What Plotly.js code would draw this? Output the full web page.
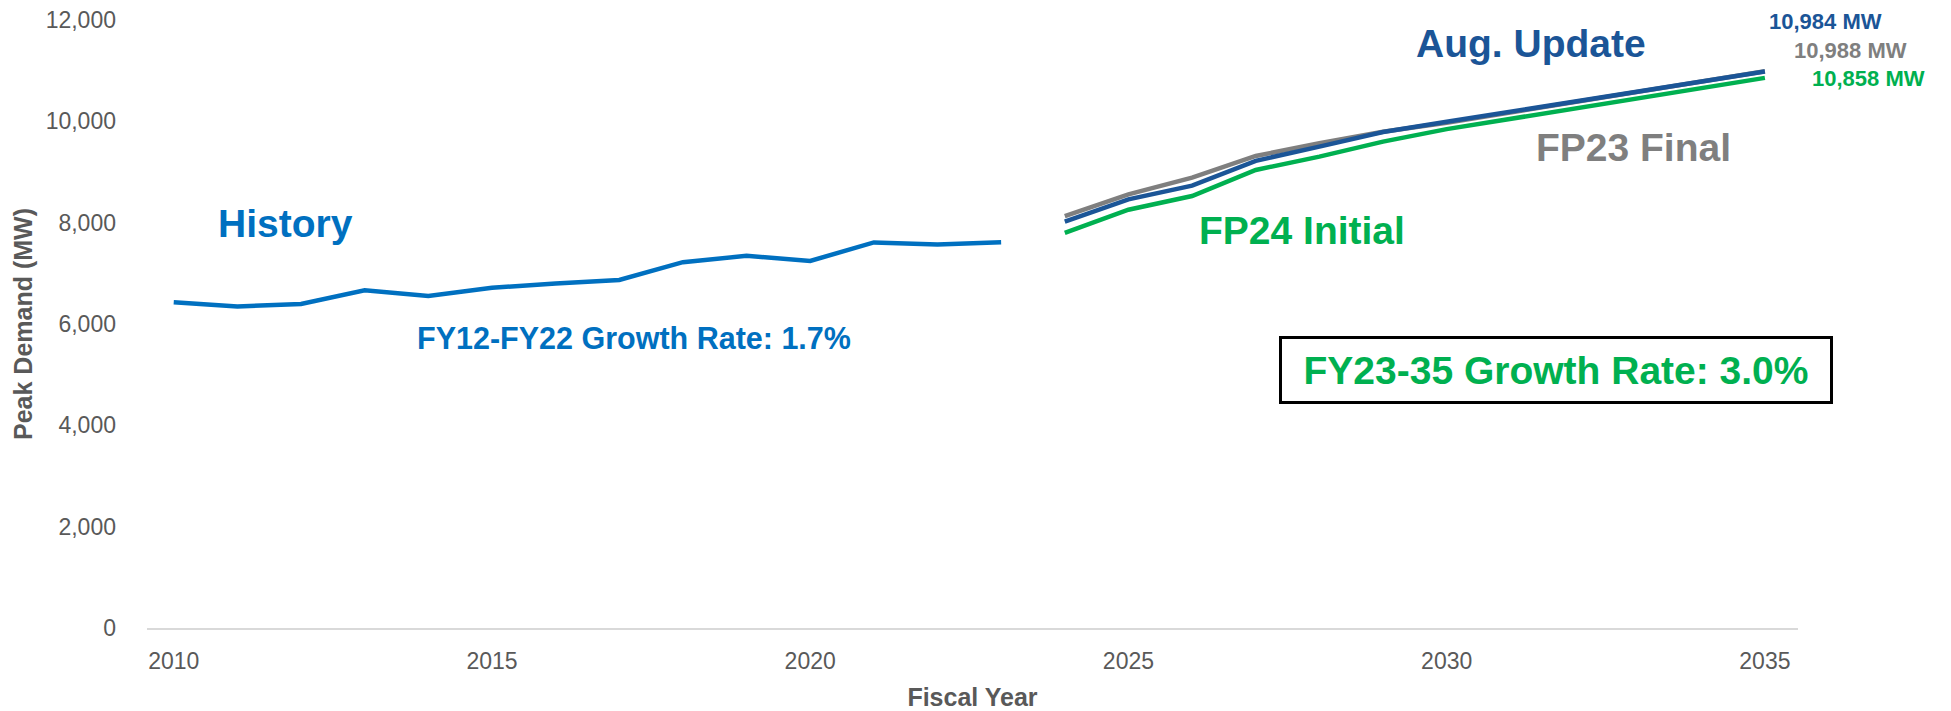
<!DOCTYPE html>
<html>
<head>
<meta charset="utf-8">
<script src="https://cdn.plot.ly/plotly-3.0.1.min.js"></script>
<style>
html,body{margin:0;padding:0;background:#fff;}
#chart{width:1951px;height:711px;}
</style>
</head>
<body>
<div id="chart"></div>
<script>
// ---- data ----
var histYears = [2010,2011,2012,2013,2014,2015,2016,2017,2018,2019,2020,2021,2022,2023];
var histValues = [6430,6345,6395,6665,6555,6715,6800,6870,7220,7345,7245,7610,7570,7612];

var fcYears = [2024,2025,2026,2027,2028,2029,2030,2031,2032,2033,2034,2035];
var augUpdate = [8020,8461,8730,9220,9500,9790,9990,10190,10390,10590,10790,10984];
var fp23Final = [8130,8559,8890,9316,9566,9796,9970,10170,10370,10570,10780,10988];
var fp24Initial = [7800,8255,8526,9040,9303,9600,9846,10050,10253,10455,10658,10858];

var xTicks = [2010,2015,2020,2025,2030,2035];
var yTicks = [0,2000,4000,6000,8000,10000,12000];

var seriesNames = ['History','Aug. Update','FP23 Final','FP24 Initial'];
var histGrowthText = 'FY12-FY22 Growth Rate: 1.7%';
var fcGrowthText = 'FY23-35 Growth Rate: 3.0%';

// ---- styles ----
var FONT = 'Liberation Sans, Arial, sans-serif';
var C_HIST = '#0070C0';
var C_AUG = '#1B5597';
var C_FP23 = '#7F7F7F';
var C_FP24 = '#00B050';
var C_AXIS = '#595959';

function mw(v){ return v.toLocaleString('en-US') + ' MW'; }
function last(a){ return a[a.length-1]; }

var traces = [
  {x: histYears, y: histValues, name: seriesNames[0], type:'scatter', mode:'lines',
   line:{color:C_HIST, width:4.5}},
  {x: fcYears, y: fp24Initial, name: seriesNames[3], type:'scatter', mode:'lines',
   line:{color:C_FP24, width:4.5}},
  {x: fcYears, y: fp23Final, name: seriesNames[2], type:'scatter', mode:'lines',
   line:{color:C_FP23, width:4.5}},
  {x: fcYears, y: augUpdate, name: seriesNames[1], type:'scatter', mode:'lines',
   line:{color:C_AUG, width:4.5}}
];

var bigFont = function(c){ return {family:FONT, size:39, color:c}; };

var annotations = [
  {x:2011.76, y:7974, xref:'x', yref:'y', text:'<b>'+seriesNames[0]+'</b>', showarrow:false,
   font:bigFont(C_HIST), xanchor:'center', yanchor:'middle'},
  {x:2017.23, y:5724, xref:'x', yref:'y', text:'<b>'+histGrowthText+'</b>', showarrow:false,
   font:{family:FONT, size:30.5, color:C_HIST}, xanchor:'center', yanchor:'middle'},
  {x:2031.32, y:11536, xref:'x', yref:'y', text:'<b>'+seriesNames[1]+'</b>', showarrow:false,
   font:bigFont(C_AUG), xanchor:'center', yanchor:'middle'},
  {x:2032.93, y:9474, xref:'x', yref:'y', text:'<b>'+seriesNames[2]+'</b>', showarrow:false,
   font:bigFont(C_FP23), xanchor:'center', yanchor:'middle'},
  {x:2027.72, y:7836, xref:'x', yref:'y', text:'<b>'+seriesNames[3]+'</b>', showarrow:false,
   font:bigFont(C_FP24), xanchor:'center', yanchor:'middle'},
  {x:2031.72, y:5102, xref:'x', yref:'y', text:'<b>'+fcGrowthText+'</b>', showarrow:false,
   font:bigFont(C_FP24), xanchor:'center', yanchor:'middle',
   bordercolor:'#000000', borderwidth:3, borderpad:6, bgcolor:'#ffffff',
   width:536, height:50},
  {x:1.0164, y:11980, xref:'paper', yref:'y', text:'<b>'+mw(last(augUpdate))+'</b>', showarrow:false,
   font:{family:FONT, size:22, color:C_AUG}, xanchor:'center', yanchor:'middle'},
  {x:1.0315, y:11394, xref:'paper', yref:'y', text:'<b>'+mw(last(fp23Final))+'</b>', showarrow:false,
   font:{family:FONT, size:22, color:C_FP23}, xanchor:'center', yanchor:'middle'},
  {x:1.0424, y:10836, xref:'paper', yref:'y', text:'<b>'+mw(last(fp24Initial))+'</b>', showarrow:false,
   font:{family:FONT, size:22, color:C_FP24}, xanchor:'center', yanchor:'middle'}
];

var layout = {
  width:1951, height:711,
  margin:{l:147, r:153, t:20, b:83, pad:0},
  paper_bgcolor:'#ffffff', plot_bgcolor:'#ffffff',
  showlegend:false,
  font:{family:FONT, color:C_AXIS},
  xaxis:{
    range:[2009.58, 2035.52],
    tickmode:'array', tickvals:xTicks, ticktext:xTicks.map(String),
    showgrid:false, zeroline:false,
    showline:true, linecolor:'#D9D9D9', linewidth:2,
    ticks:'', ticklabelstandoff:11,
    tickfont:{family:FONT, size:23, color:C_AXIS},
    title:{text:'<b>Fiscal Year</b>', font:{family:FONT, size:25, color:C_AXIS}, standoff:16}
  },
  yaxis:{
    range:[0,12000],
    tickmode:'array', tickvals:yTicks, ticktext:yTicks.map(function(v){return v.toLocaleString('en-US');}),
    showgrid:false, zeroline:false, showline:false,
    ticks:'', ticklabelstandoff:30,
    tickfont:{family:FONT, size:23, color:C_AXIS},
    title:{text:'<b>Peak Demand (MW)</b>', font:{family:FONT, size:25, color:C_AXIS}, standoff:5}
  },
  annotations: annotations
};

Plotly.newPlot('chart', traces, layout, {displayModeBar:false, staticPlot:true});
</script>
</body>
</html>
